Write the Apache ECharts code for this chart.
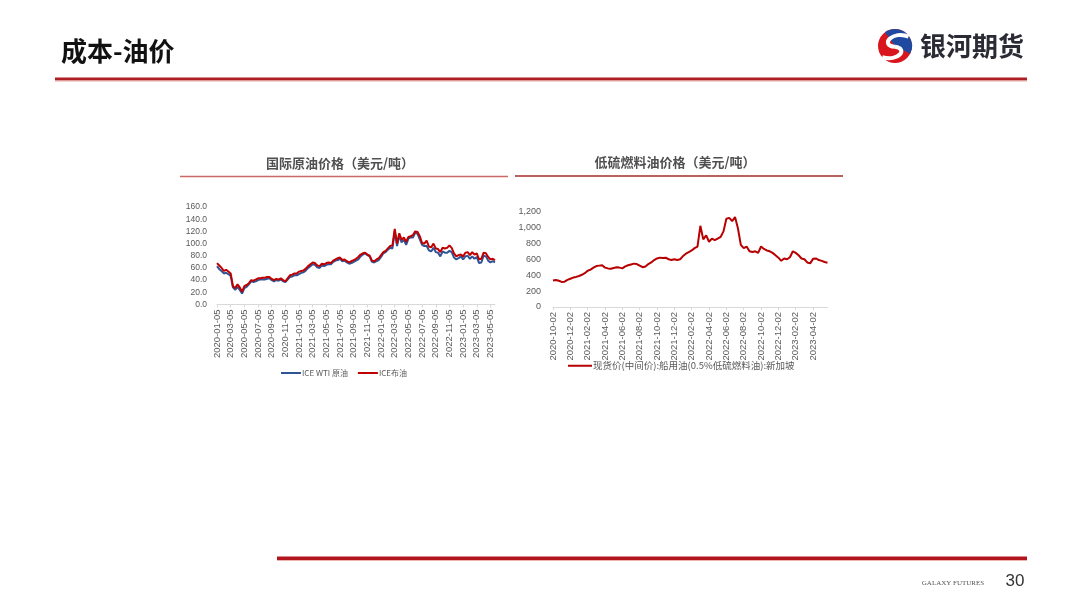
<!DOCTYPE html>
<html>
<head>
<meta charset="utf-8">
<script src="https://cdn.jsdelivr.net/npm/echarts@6/dist/echarts.min.js"></script>
<style>
html,body{margin:0;padding:0;background:#fff;}
#main{width:1080px;height:608px;}
</style>
</head>
<body>
<div id="main"></div>
<script>
// ---------------- DATA ----------------
// Left chart: sampled on days 05/15/25 of each month, 2020-01 .. 2023-05
var crudeMonths = ['2020-01','2020-02','2020-03','2020-04','2020-05','2020-06','2020-07','2020-08','2020-09','2020-10','2020-11','2020-12',
  '2021-01','2021-02','2021-03','2021-04','2021-05','2021-06','2021-07','2021-08','2021-09','2021-10','2021-11','2021-12',
  '2022-01','2022-02','2022-03','2022-04','2022-05','2022-06','2022-07','2022-08','2022-09','2022-10','2022-11','2022-12',
  '2023-01','2023-02','2023-03','2023-04','2023-05'];
var crudeDays = ['05','15','25'];
var brent = [
  68,64,60, 55,57,54, 51,30,27, 33,28,21, 30,32,35, 40,39,41, 43,43,44, 44,45,45, 42,40,42, 41,43,40, 38,43,48, 49,51,51,
  54,55,56, 59,63,66, 69,68,64, 63,67,66, 68,69,68, 72,74,76, 77,73,74, 71,69,71, 73,75,78, 82,84,85, 82,80,72, 71,74,76,
  81,86,88, 92,96,97, 124,100,117, 106,110,103, 111,112,114, 120,119,112, 101,100,105, 95,94,100, 92,91,86, 93,92,93, 97,93,84, 79,81,82,
  79,85,86, 81,86,82, 84,74,75, 85,84,78, 74,75,73
];
var wti = [
  63,58,55, 51,52,50, 47,28,24, 29,24,18, 27,29,33, 38,37,38, 40,41,41, 41,42,43, 40,38,40, 39,41,38, 37,41,45, 46,48,48,
  50,52,53, 56,60,63, 66,65,61, 60,64,63, 65,66,66, 70,72,73, 75,71,72, 69,67,68, 70,72,74, 79,82,84, 81,79,70, 69,71,73,
  78,84,86, 90,93,92, 120,96,113, 102,106,98, 108,110,110, 118,116,107, 98,96,96, 89,87,93, 86,85,79, 87,85,85, 88,86,77, 74,76,79,
  74,79,80, 75,79,75, 78,68,69, 80,79,72, 69,71,69
];
// Right chart: sampled on days 02/12/22 of each month, 2020-10 .. 2023-05
var lsfoMonths = ['2020-10','2020-11','2020-12',
  '2021-01','2021-02','2021-03','2021-04','2021-05','2021-06','2021-07','2021-08','2021-09','2021-10','2021-11','2021-12',
  '2022-01','2022-02','2022-03','2022-04','2022-05','2022-06','2022-07','2022-08','2022-09','2022-10','2022-11','2022-12',
  '2023-01','2023-02','2023-03','2023-04','2023-05'];
var lsfoDays = ['02','12','22'];
var lsfo = [
  332,340,330, 315,318,340, 355,370,378,
  390,405,425, 455,470,495, 515,520,525, 495,485,480, 490,500,495, 485,510,525, 535,545,540, 520,500,510, 540,560,590, 610,620,615, 620,600,590, 600,590,600,
  640,670,690, 710,740,760, 1020,850,900, 820,860,840, 860,880,950, 1110,1120,1080, 1130,990,780, 740,760,700, 690,700,680, 760,730,710, 700,680,650, 620,580,610,
  600,625,700, 680,650,610, 600,560,548, 605,610,590, 580,565,555
];
var crudeYTicks = [0,20,40,60,80,100,120,140,160];
var lsfoYTicks = [0,200,400,600,800,1000,1200];

var crudeTitle = '国际原油价格（美元/吨）';
var lsfoTitle = '低硫燃料油价格（美元/吨）';
var wtiName = 'ICE WTI 原油';
var brentName = 'ICE布油';
var lsfoName = '现货价(中间价):船用油(0.5%低硫燃料油):新加坡';

function buildDates(months, days){
  var out = [];
  months.forEach(function(m){ days.forEach(function(d){ out.push(m + '-' + d); }); });
  return out;
}
var crudeDates = buildDates(crudeMonths, crudeDays);
var lsfoDates = buildDates(lsfoMonths, lsfoDays);

// ---------------- CHART ----------------
var CJK = '"Noto Sans CJK SC", "Liberation Sans", sans-serif';
var LAT = '"Liberation Sans", Arial, sans-serif';
var chart = echarts.init(document.getElementById('main'), null, {renderer:'canvas'});

function xAxisCfg(gridIndex, dates){
  return {
    type:'category', gridIndex:gridIndex, data:dates, boundaryGap:false,
    axisLine:{show:true, lineStyle:{color:'#d9d9d9', width:1}},
    axisTick:{show:true, interval:5, length:3, lineStyle:{color:'#d9d9d9'}},
    axisLabel:{show:true, interval:5, rotate:90, fontSize:9.5, color:'#595959', fontFamily:LAT, margin:5},
    splitLine:{show:false}
  };
}

var cx = 895, cy = 46, r = 17;
function txt(x, y, text, size, weight, family, fill, align, vAlign){
  return {type:'text', x:x, y:y, style:{text:text, fontSize:size, fontWeight:weight, fontFamily:family, fill:fill,
    textAlign:align || 'left', textVerticalAlign:vAlign || 'middle'}};
}
var option = {
  backgroundColor:'#ffffff',
  animation:false,
  grid:[
    {left:217, top:207, width:278, height:97.5, containLabel:false},
    {left:553, top:211.5, width:274.5, height:95.5, containLabel:false}
  ],
  xAxis:[ xAxisCfg(0, crudeDates), xAxisCfg(1, lsfoDates) ],
  yAxis:[
    {type:'value', gridIndex:0, min:crudeYTicks[0], max:crudeYTicks[crudeYTicks.length-1], interval:20,
     axisLine:{show:false}, axisTick:{show:false}, splitLine:{show:false},
     axisLabel:{fontSize:8.5, color:'#595959', fontFamily:LAT, margin:10, formatter:function(v){return v.toFixed(1);}}},
    {type:'value', gridIndex:1, min:lsfoYTicks[0], max:lsfoYTicks[lsfoYTicks.length-1], interval:200,
     axisLine:{show:false}, axisTick:{show:false}, splitLine:{show:false},
     axisLabel:{fontSize:9, color:'#595959', fontFamily:LAT, margin:12, formatter:function(v){return v.toLocaleString('en-US');}}}
  ],
  legend:[
    {left:281, top:369, padding:0, itemWidth:20, itemHeight:2, itemGap:10, icon:'rect',
     textStyle:{fontSize:8, color:'#595959', fontFamily:CJK, padding:[0,0,0,-4]},
     data:[wtiName, brentName]},
    {left:568, top:361, padding:0, itemWidth:24, itemHeight:2, icon:'rect',
     textStyle:{fontSize:9.5, color:'#595959', fontFamily:CJK, padding:[0,0,0,-4]},
     data:[lsfoName]}
  ],
  series:[
    {name:wtiName, type:'line', xAxisIndex:0, yAxisIndex:0, data:wti, showSymbol:false, symbol:'none',
     lineStyle:{color:'#2f5597', width:2}, itemStyle:{color:'#2f5597'}},
    {name:brentName, type:'line', xAxisIndex:0, yAxisIndex:0, data:brent, showSymbol:false, symbol:'none',
     lineStyle:{color:'#c00000', width:2}, itemStyle:{color:'#c00000'}},
    {name:lsfoName, type:'line', xAxisIndex:1, yAxisIndex:1, data:lsfo, showSymbol:false, symbol:'none',
     lineStyle:{color:'#b80000', width:2}, itemStyle:{color:'#b80000'}}
  ],
  graphic:[
    // header
    txt(61, 51, '成本-油价', 26, 'bold', '"Noto Sans CJK SC", sans-serif', '#111111'),
    {type:'rect', shape:{x:55, y:77.5, width:972, height:3}, style:{fill:'#ad1f23'}},
    {type:'rect', shape:{x:55, y:80.5, width:972, height:1}, style:{fill:'#e8a7a0'}},
    // logo
    {type:'circle', shape:{cx:cx, cy:cy, r:r}, style:{fill:'#d9161d'}},
    {type:'sector', shape:{cx:cx, cy:cy, r:r, r0:0, startAngle:-Math.PI*0.7, endAngle:Math.PI*0.15, clockwise:true}, style:{fill:'#1f4aa0'}},
    {type:'bezierCurve', shape:{x1:cx+r*0.8, y1:cy-r*0.55, cpx1:cx-r*0.1, cpy1:cy-r*0.95, cpx2:cx-r*0.95, cpy2:cy-r*0.05, x2:cx, y2:cy+r*0.05},
     style:{fill:null, stroke:'#ffffff', lineWidth:4}},
    {type:'bezierCurve', shape:{x1:cx, y1:cy+r*0.05, cpx1:cx+r*0.8, cpy1:cy+r*0.15, cpx2:cx+r*0.2, cpy2:cy+r*0.95, x2:cx-r*0.75, y2:cy+r*0.65},
     style:{fill:null, stroke:'#ffffff', lineWidth:4}},
    txt(920, 46, '银河期货', 26, 'bold', '"Noto Sans CJK SC", sans-serif', '#2b2b36'),
    // chart titles
    txt(340, 163, crudeTitle, 13, 'bold', '"Noto Sans CJK SC", sans-serif', '#505050', 'center'),
    {type:'line', shape:{x1:180, y1:176.5, x2:508, y2:176.5}, style:{stroke:'#c96a66', lineWidth:1.5}},
    txt(675, 162, lsfoTitle, 13, 'bold', '"Noto Sans CJK SC", sans-serif', '#505050', 'center'),
    {type:'line', shape:{x1:515, y1:176, x2:843, y2:176}, style:{stroke:'#b9625e', lineWidth:2}},
    // footer
    {type:'rect', shape:{x:277, y:556.5, width:750, height:3.5}, style:{fill:'#b3151c'}},
    {type:'rect', shape:{x:277, y:560, width:750, height:1}, style:{fill:'#eeb5b0'}},
    txt(953, 583, 'GALAXY FUTURES', 7, 'normal', '"Liberation Serif", serif', '#555555', 'center'),
    txt(1015, 581, '30', 17, 'normal', '"Liberation Sans", Arial, sans-serif', '#333333', 'center')
  ]
};
chart.setOption(option);
</script>
</body>
</html>
